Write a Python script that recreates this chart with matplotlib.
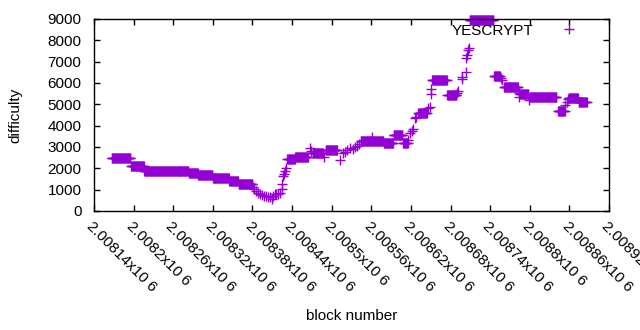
import numpy as np
import matplotlib.pyplot as plt

# plateaus where the difficulty stays constant: first block, last block, difficulty
run_start = [2008167, 2008196, 2008216, 2008284, 2008298, 2008320, 2008345, 2008359,
             2008433, 2008445, 2008471, 2008491, 2008544, 2008579, 2008594, 2008608,
             2008631, 2008652, 2008675, 2008709, 2008746, 2008761, 2008785, 2008800,
             2008843, 2008859, 2008874]
run_end = [2008195, 2008215, 2008283, 2008297, 2008319, 2008344, 2008358, 2008380,
           2008444, 2008464, 2008487, 2008508, 2008578, 2008593, 2008607, 2008615,
           2008644, 2008674, 2008689, 2008745, 2008755, 2008782, 2008798, 2008840,
           2008853, 2008873, 2008886]
run_value = [2470, 2095, 1860, 1766, 1672, 1531, 1390, 1250,
             2423, 2531, 2700, 2859, 3260, 3200, 3560, 3200,
             4590, 6125, 5440, 8960, 6330, 5800, 5480, 5330,
             4690, 5280, 5100]

# single blocks between the plateaus
pt_block = [2008381, 2008383, 2008386, 2008388, 2008391, 2008394, 2008397, 2008400,
            2008403, 2008406, 2008409, 2008411, 2008414, 2008416, 2008419, 2008421,
            2008424, 2008425, 2008427, 2008428, 2008430, 2008431,
            2008467, 2008468, 2008488, 2008512, 2008517, 2008520, 2008523, 2008527,
            2008532, 2008535, 2008538, 2008541, 2008561,
            2008616, 2008618, 2008621, 2008623, 2008626, 2008628, 2008646, 2008649,
            2008650, 2008651, 2008690, 2008692, 2008697, 2008698, 2008703, 2008704,
            2008705, 2008707, 2008708, 2008756, 2008758, 2008783, 2008784, 2008799,
            2008854, 2008856, 2008858]
pt_value = [1140, 1031, 923, 858, 797, 750, 717, 689,
            670, 656, 577, 703, 783, 811, 783, 858,
            1045, 1250, 1640, 1720, 1890, 2000,
            2938, 2828, 2517, 2400, 2703, 2780, 2859, 2938,
            2890, 3014, 3047, 3126, 3480,
            3328, 3640, 3765, 3830, 4345, 4420, 4814, 4890,
            5484, 5700, 5547, 5625, 6173, 6267, 6530, 7158,
            7312, 7547, 7626, 6220, 6140, 5515, 5360, 5200,
            4970, 5125, 5236]

xtick_values = [2008140, 2008200, 2008260, 2008320, 2008380, 2008440, 2008500,
                2008560, 2008620, 2008680, 2008740, 2008800, 2008860, 2008920]
xtick_labels = ['2.00814x10 6', '2.0082x10 6', '2.00826x10 6', '2.00832x10 6',
                '2.00838x10 6', '2.00844x10 6', '2.0085x10 6', '2.00856x10 6',
                '2.00862x10 6', '2.00868x10 6', '2.00874x10 6', '2.0088x10 6',
                '2.00886x10 6', '2.00892x10 6']
ytick_values = [0, 1000, 2000, 3000, 4000, 5000, 6000, 7000, 8000, 9000]

blocks = []
diffs = []
for s, e, v in zip(run_start, run_end, run_value):
    for b in range(s, e + 1):
        blocks.append(b)
        diffs.append(v)
blocks = blocks + pt_block
diffs = diffs + pt_value
order = np.argsort(blocks)
blocks = np.array(blocks)[order]
diffs = np.array(diffs)[order]

plt.rcParams['font.family'] = ['Liberation Sans', 'DejaVu Sans']
plt.rcParams['font.size'] = 11

fig = plt.figure(figsize=(6.4, 3.3), dpi=100)
ax = fig.add_axes([94 / 640, 1 - 211 / 330, (609 - 94) / 640, (211 - 19) / 330])

ax.plot(blocks, diffs, linestyle='none', marker='+', color='#9400d3',
        markersize=6.5, markeredgewidth=1.0, label='YESCRYPT', clip_on=False)

ax.set_xlim(2008140, 2008920)
ax.set_ylim(0, 9000)
ax.set_xticks(xtick_values)
ax.set_xticklabels(xtick_labels, rotation=-45, ha='left', va='top',
                   rotation_mode='anchor')
ax.set_yticks(ytick_values)
ax.tick_params(direction='in', top=True, right=True, length=4, width=1,
               colors='black')
ax.tick_params(axis='y', pad=9)
ax.tick_params(axis='x', pad=6)
for sp in ax.spines.values():
    sp.set_linewidth(1)

ax.set_xlabel('block number')
ax.set_ylabel('difficulty')
ax.xaxis.set_label_coords(0.5, -0.51)
ax.yaxis.set_label_coords(-0.14, 0.5)

ax.legend(loc='upper right', bbox_to_anchor=(0.984, 1.0), frameon=False,
          markerfirst=False, numpoints=1, handlelength=3.6, handletextpad=0.5,
          borderaxespad=0, borderpad=0.3)

plt.savefig('out.png', dpi=100)
